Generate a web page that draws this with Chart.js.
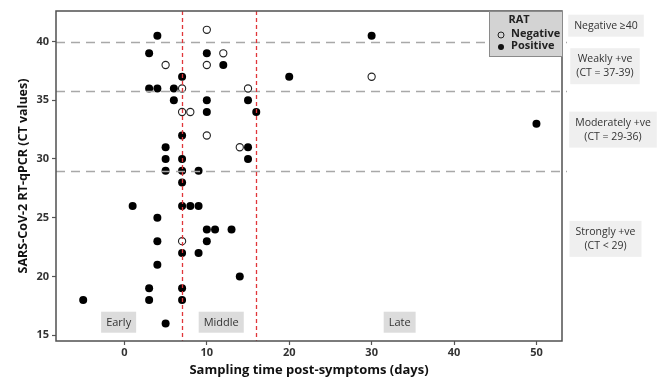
<!DOCTYPE html>
<html>
<head>
<meta charset="utf-8">
<script src="https://cdn.jsdelivr.net/npm/chart.js@4/dist/chart.umd.min.js"></script>
<style>
  html, body { margin: 0; padding: 0; background: #fff; }
  #wrap { width: 662px; height: 380px; position: relative; }
</style>
</head>
<body>
<div id="wrap"><canvas id="c" width="662" height="380"></canvas></div>
<script>
// ---- data (days post-symptoms, CT value) ----
const negDays = [10, 12, 5, 10, 7, 15, 7, 8, 10, 14, 7, 30];
const negCT   = [41, 39, 38, 38, 36, 36, 34, 34, 32, 31, 23, 37];

const posDays = [4, 30, 3, 10, 12, 7, 20, 3, 4, 6, 6, 10, 15, 10, 16, 50, 7, 5, 15, 5, 7, 15, 5, 7, 9, 7, 1, 7, 8, 9, 4, 10, 11, 13, 4, 10, 7, 9, 4, 14, 3, 7, -5, 3, 7, 5];
const posCT   = [40.5, 40.5, 39, 39, 38, 37, 37, 36, 36, 36, 35, 35, 35, 34, 34, 33, 32, 31, 31, 30, 30, 30, 29, 29, 29, 28, 26, 26, 26, 26, 25, 24, 24, 24, 23, 23, 22, 22, 21, 20, 19, 19, 18, 18, 18, 16];

const xTicks = [0, 10, 20, 30, 40, 50];
const yTicks = [15, 20, 25, 30, 35, 40];
const ctThresholds = [40, 35.8, 29];       // grey dashed lines
const phaseBounds = [7, 16];                // red dashed lines
const phaseLabels = ['Early', 'Middle', 'Late'];
const phaseCenters = [-0.7, 11.75, 33.4];
const bandLabels = [['Negative \u226540'], ['Weakly +ve', '(CT = 37-39)'], ['Moderately +ve', '(CT = 29-36)'], ['Strongly +ve', '(CT < 29)']];
const bandCenters = [41.35, 37.9, 32.5, 23.2];

const FONT = "'Open Sans', 'Noto Sans', sans-serif";

function pts(xs, ys) { return xs.map((x, i) => ({x: x, y: ys[i]})); }

const overlay = {
  id: 'overlay',
  afterDatasetsDraw(chart) {
    const {ctx, chartArea: a, scales: {x, y}} = chart;
    ctx.save();
    // grey horizontal dashed lines
    ctx.strokeStyle = '#a8a8a8';
    ctx.lineWidth = 1.5;
    ctx.setLineDash([9, 6]);
    ctThresholds.forEach(v => {
      const py = Math.round(y.getPixelForValue(v)) + 0.5;
      ctx.beginPath(); ctx.moveTo(a.left, py); ctx.lineTo(a.right + 5, py); ctx.stroke();
    });
    // red vertical dashed lines
    ctx.strokeStyle = '#e0363a';
    ctx.lineWidth = 1.3;
    ctx.setLineDash([4, 3]);
    phaseBounds.forEach(v => {
      const px = Math.round(x.getPixelForValue(v)) + 0.5;
      ctx.beginPath(); ctx.moveTo(px, a.top); ctx.lineTo(px, a.bottom); ctx.stroke();
    });
    ctx.setLineDash([]);
    // frame
    ctx.strokeStyle = '#505050';
    ctx.lineWidth = 1.5;
    ctx.strokeRect(a.left, a.top, a.right - a.left, a.bottom - a.top);

    // phase labels
    ctx.font = '11px ' + FONT;
    ctx.textAlign = 'center';
    ctx.textBaseline = 'middle';
    const py = y.getPixelForValue(16.1);
    phaseLabels.forEach((t, i) => {
      const cx = x.getPixelForValue(phaseCenters[i]);
      const w = ctx.measureText(t).width + 10;
      ctx.fillStyle = '#dcdcdc';
      ctx.fillRect(cx - w / 2, py - 10.5, w, 21);
      ctx.fillStyle = '#333';
      ctx.fillText(t, cx, py + 0.5);
    });

    // right-hand band labels
    ctx.font = '10.5px ' + FONT;
    const bandX = [606, 605, 613, 605.5];
    bandLabels.forEach((lines, i) => {
      const cy = y.getPixelForValue(bandCenters[i]);
      const ws = lines.map(l => ctx.measureText(l).width);
      const w = Math.max(...ws) + 12;
      const h = lines.length * 14 + 8;
      const cx = bandX[i];
      ctx.fillStyle = '#efefef';
      ctx.fillRect(cx - w / 2, cy - h / 2, w, h);
      ctx.fillStyle = '#333';
      lines.forEach((l, j) => ctx.fillText(l, cx, cy - (lines.length - 1) * 7 + j * 14));
    });

    // legend box
    const lx = 489, ly = a.top, lw = a.right - 489 + 1, lh = 46;
    ctx.fillStyle = '#d3d3d3';
    ctx.fillRect(lx, ly, lw, lh);
    ctx.strokeStyle = '#8a8a8a';
    ctx.lineWidth = 1;
    ctx.strokeRect(lx + 0.5, ly + 0.5, lw - 1, lh - 1);
    ctx.fillStyle = '#222';
    ctx.font = 'bold 11px ' + FONT;
    ctx.textAlign = 'center';
    ctx.fillText('RAT', 519, ly + 9);
    ctx.textAlign = 'left';
    ctx.fillText('Negative', 511, ly + 23);
    ctx.fillText('Positive', 511, ly + 35);
    ctx.beginPath(); ctx.arc(501, ly + 24, 3, 0, Math.PI * 2);
    ctx.strokeStyle = '#222'; ctx.lineWidth = 1; ctx.stroke();
    ctx.beginPath(); ctx.arc(501, ly + 36, 3, 0, Math.PI * 2);
    ctx.fillStyle = '#111'; ctx.fill();
    ctx.restore();
  }
};

new Chart(document.getElementById('c'), {
  type: 'scatter',
  data: {
    datasets: [
      {
        label: 'Negative',
        data: pts(negDays, negCT),
        pointRadius: 3.6,
        pointHoverRadius: 3.6,
        pointBorderWidth: 1.1,
        pointBackgroundColor: 'rgba(255,255,255,0)',
        pointBorderColor: '#222'
      },
      {
        label: 'Positive',
        data: pts(posDays, posCT),
        pointRadius: 4,
        pointHoverRadius: 4,
        pointBorderWidth: 0,
        pointBackgroundColor: '#000',
        pointBorderColor: '#000'
      }
    ]
  },
  options: {
    responsive: false,
    animation: false,
    events: [],
    layout: { padding: { top: 11, right: 100, left: 0, bottom: 0 } },
    plugins: { legend: { display: false }, tooltip: { enabled: false } },
    scales: {
      x: {
        type: 'linear',
        min: -8.3, max: 53.1,
        afterBuildTicks: s => { s.ticks = xTicks.map(v => ({value: v})); },
        afterFit: s => { s.height = 39; },
        grid: { drawOnChartArea: false, drawTicks: true, tickLength: 4, tickColor: '#555', tickWidth: 1.2 },
        border: { display: false },
        ticks: { color: '#333', padding: 1, font: { family: FONT, size: 11, weight: 'bold' } },
        title: { display: true, text: 'Sampling time post-symptoms (days)', color: '#111',
                 padding: { top: 0, bottom: 2 }, font: { family: FONT, size: 13, weight: 'bold' } }
      },
      y: {
        type: 'linear',
        min: 14.5, max: 42.6,
        afterBuildTicks: s => { s.ticks = yTicks.map(v => ({value: v})); },
        afterFit: s => { s.width = 56; },
        grid: { drawOnChartArea: false, drawTicks: true, tickLength: 4, tickColor: '#555', tickWidth: 1.2 },
        border: { display: false },
        ticks: { color: '#333', padding: 3, font: { family: FONT, size: 11, weight: 'bold' } },
        title: { display: true, text: 'SARS-CoV-2 RT-qPCR (CT values)', color: '#111',
                 padding: { top: 16, bottom: 0 }, font: { family: FONT, size: 12.5, weight: 'bold' } }
      }
    }
  },
  plugins: [overlay]
});
</script>
</body>
</html>
